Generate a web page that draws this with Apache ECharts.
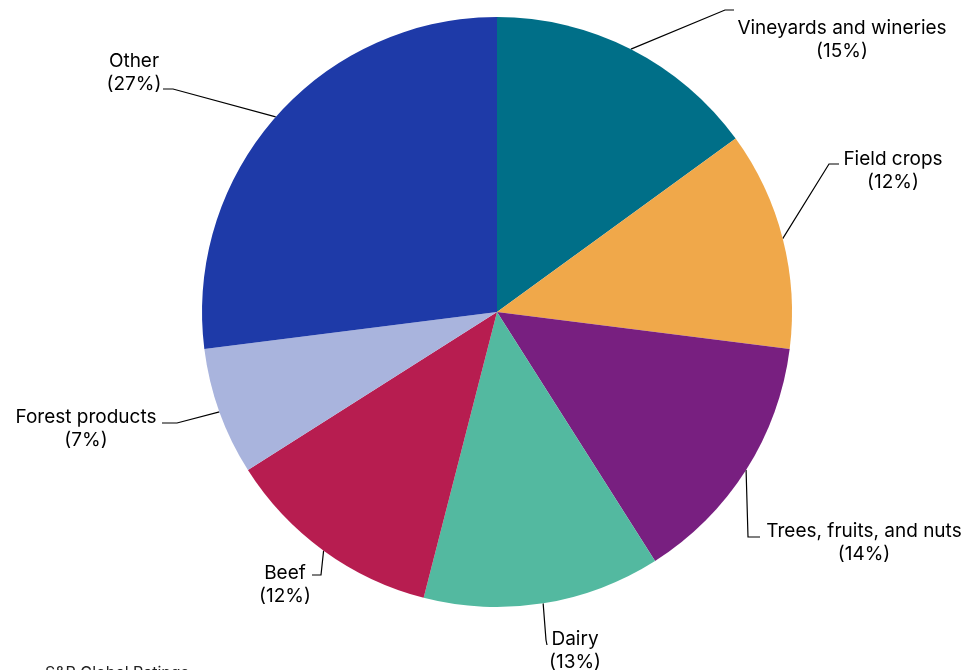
<!DOCTYPE html>
<html>
<head>
<meta charset="utf-8">
<script src="https://cdn.jsdelivr.net/npm/echarts@6/dist/echarts.min.js"></script>
<style>
  html, body { margin: 0; padding: 0; background: #fff; }
  #chart { width: 967px; height: 670px; }
</style>
</head>
<body>
<div id="chart"></div>
<script>
// slice names and shares (%)
const categories = ['Vineyards and wineries', 'Field crops', 'Trees, fruits, and nuts', 'Dairy', 'Beef', 'Forest products', 'Other'];
const shares = [15, 12, 14, 13, 12, 7, 27];
const colors = ['#006F88', '#F0A84A', '#781F80', '#53B9A0', '#B71D50', '#A9B4DD', '#1E3AA8'];

// label placement: text centre, elbow and end of the leader line
const labelSpots = [
  { x: 842, y: 40, bend: [725, 10], end: [734, 10] },
  { x: 893, y: 171, bend: [829, 164], end: [839, 164] },
  { x: 864, y: 543, bend: [748, 537], end: [760, 537] },
  { x: 575, y: 651, bend: [546, 640], end: [547, 645] },
  { x: 285, y: 585, bend: [321, 575], end: [312, 575] },
  { x: 86, y: 429, bend: [177, 423], end: [162, 423] },
  { x: 134, y: 73, bend: [173, 89], end: [163, 89] }
];

const chart = echarts.init(document.getElementById('chart'), null, { renderer: 'canvas' });

chart.setOption({
  animation: false,
  textStyle: { fontFamily: 'Inter' },
  graphic: [
    {
      type: 'text',
      left: 45,
      top: 665,
      style: { text: 'S&P Global Ratings', fill: '#222', font: '16px Inter' }
    }
  ],
  series: [
    {
      type: 'pie',
      center: [497, 312],
      radius: 295,
      startAngle: 90,
      clockwise: true,
      avoidLabelOverlap: false,
      data: categories.map((name, i) => ({
        name,
        value: shares[i],
        itemStyle: { color: colors[i] }
      })),
      label: {
        show: true,
        position: 'outside',
        formatter: (p) => `${p.name}\n(${p.value}%)`,
        color: '#000',
        fontSize: 19,
        lineHeight: 23,
        align: 'center'
      },
      labelLine: {
        show: true,
        length: 20,
        length2: 10,
        lineStyle: { color: '#000', width: 1.2 }
      },
      labelLayout: (params) => {
        const s = labelSpots[params.dataIndex];
        return {
          x: s.x,
          y: s.y,
          align: 'center',
          verticalAlign: 'middle',
          labelLinePoints: [params.labelLinePoints[0], s.bend, s.end]
        };
      },
      emphasis: { disabled: true }
    }
  ]
});
</script>
</body>
</html>
